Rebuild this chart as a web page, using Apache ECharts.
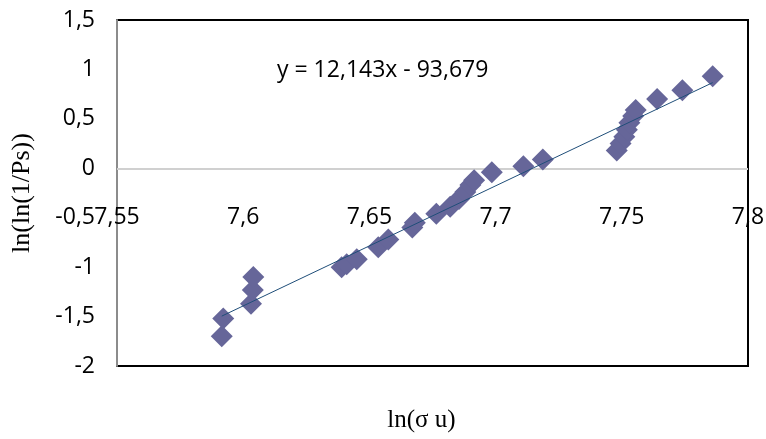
<!DOCTYPE html>
<html>
<head>
<meta charset="utf-8">
<script src="https://cdn.jsdelivr.net/npm/echarts@6/dist/echarts.min.js"></script>
<style>
html,body{margin:0;padding:0;background:#fff;}
#chart{width:766px;height:439px;}
</style>
</head>
<body>
<div id="chart"></div>
<script>
// ln(sigma u) values
var xValues = [7.5915, 7.5921, 7.6031, 7.6038, 7.6040, 7.6390, 7.6410, 7.6450, 7.6535, 7.6575,
               7.6670, 7.6680, 7.6765, 7.6820, 7.6855, 7.6880, 7.6900, 7.6915, 7.6985, 7.7110,
               7.7187, 7.7480, 7.7495, 7.7510, 7.7520, 7.7530, 7.7545, 7.7555, 7.7640, 7.7740, 7.7860];
// ln(ln(1/Ps)) values
var yValues = [-1.70, -1.52, -1.37, -1.23, -1.10, -1.00, -0.97, -0.92, -0.80, -0.72,
               -0.60, -0.55, -0.46, -0.39, -0.31, -0.24, -0.17, -0.12, -0.04, 0.02,
               0.09, 0.18, 0.25, 0.32, 0.39, 0.46, 0.53, 0.59, 0.70, 0.79, 0.93];
// linear trend coefficients: y = slope*x + intercept
var trendSlope = 12.143;
var trendIntercept = -93.679;
var equationText = 'y = 12,143x - 93,679';
var xTickLabels = ['7,55', '7,6', '7,65', '7,7', '7,75', '7,8'];
var yTickLabels = ['-2', '-1,5', '-1', '-0,5', '0', '0,5', '1', '1,5'];
var xTitle = 'ln(σ u)';
var yTitle = 'ln(ln(1/Ps))';

var points = xValues.map(function (x, i) { return [x, yValues[i]]; });
var xMin = Math.min.apply(null, xValues), xMax = Math.max.apply(null, xValues);
var trend = [[xMin, trendSlope * xMin + trendIntercept], [xMax, trendSlope * xMax + trendIntercept]];

var labelFont = '"Open Sans", "Liberation Sans", sans-serif';
var chart = echarts.init(document.getElementById('chart'));
chart.setOption({
  backgroundColor: '#fff',
  animation: false,
  title: {
    text: equationText,
    left: 272, top: 54,
    textStyle: { fontFamily: labelFont, fontSize: 23, fontWeight: 'normal', color: '#000' }
  },
  grid: {
    left: 117, top: 20, right: 18, bottom: 73,
    containLabel: false, outerBoundsMode: 'none',
    show: true, borderColor: '#000', borderWidth: 2
  },
  xAxis: {
    type: 'value', min: 7.55, max: 7.8, interval: 0.05, position: 'bottom',
    name: xTitle, nameLocation: 'middle', nameGap: 42,
    nameTextStyle: { fontFamily: '"Liberation Serif", "DejaVu Serif", serif', fontSize: 25, color: '#000', padding: [0, 22, 0, 0] },
    axisLine: { show: false, onZero: false },
    axisTick: { show: false },
    splitLine: { show: false },
    axisLabel: {
      margin: -160, fontFamily: labelFont, fontSize: 23, color: '#000', hideOverlap: false,
      formatter: function (v) { return xTickLabels[Math.round((v - 7.55) / 0.05)]; }
    }
  },
  yAxis: {
    type: 'value', min: -2, max: 1.5, interval: 0.5,
    name: yTitle, nameLocation: 'middle', nameGap: 82, nameRotate: 90,
    nameTextStyle: { fontFamily: '"Liberation Serif", "DejaVu Serif", serif', fontSize: 26, color: '#000' },
    axisLine: { show: true, onZero: false, lineStyle: { color: '#8c8c8c', width: 2 } },
    axisTick: { show: false },
    splitLine: { show: false },
    axisLabel: {
      margin: 22, fontFamily: labelFont, fontSize: 23, color: '#000', hideOverlap: false,
      showMinLabel: true, showMaxLabel: true,
      formatter: function (v) { return yTickLabels[Math.round((v + 2) / 0.5)]; }
    }
  },
  series: [
    {
      type: 'scatter', data: points, symbol: 'diamond', symbolSize: 22,
      itemStyle: { color: '#666699', opacity: 1 }, z: 4,
      markLine: {
        silent: true, symbol: ['none', 'none'], animation: false, z: 1,
        label: { show: false },
        lineStyle: { color: '#d0d0d0', width: 2, type: 'solid', opacity: 1 },
        emphasis: { disabled: true },
        data: [{ yAxis: 0 }]
      }
    },
    {
      type: 'line', data: trend, symbol: 'none',
      lineStyle: { color: '#1f4e79', width: 1 }, z: 5
    }
  ]
});
</script>
</body>
</html>
